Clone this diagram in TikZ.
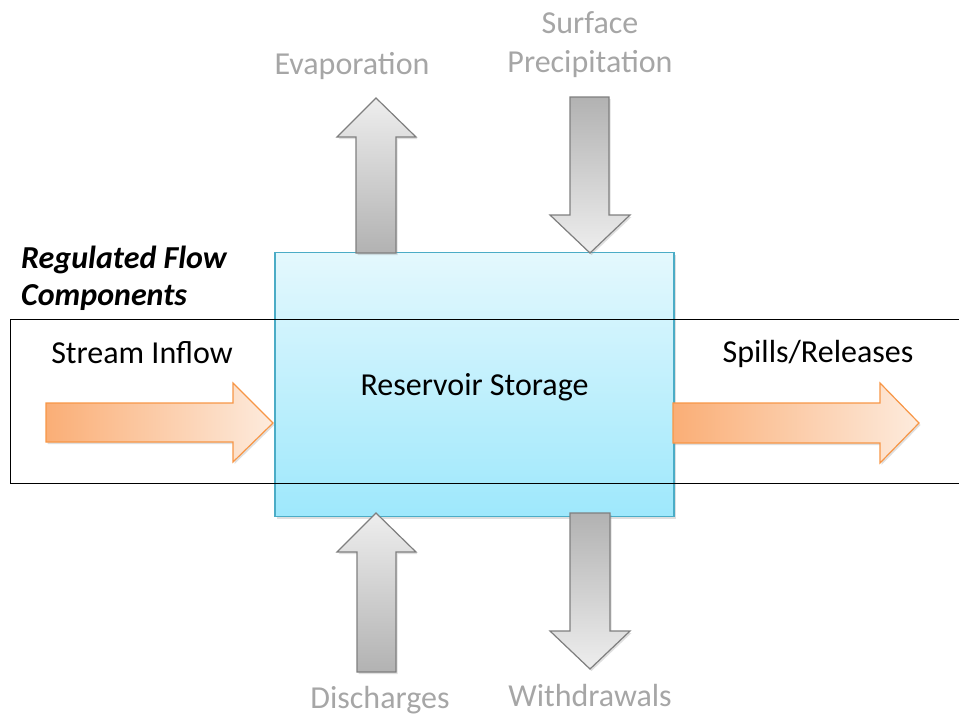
\documentclass[tikz,border=0pt]{standalone}
\usepackage{fontspec}
\setmainfont{Carlito}
\usetikzlibrary{shadows}

\definecolor{resline}{HTML}{4BACC6}
\definecolor{restop}{HTML}{E4F8FD}
\definecolor{resbottom}{HTML}{9EE8FC}
\definecolor{orangeline}{HTML}{F79646}
\definecolor{orangedark}{HTML}{FAAE76}
\definecolor{orangelight}{HTML}{FDEBDD}
\definecolor{grayline}{HTML}{7F7F7F}
\definecolor{graydark}{HTML}{B2B2B2}
\definecolor{graylight}{HTML}{EEEEEE}
\definecolor{labelgray}{HTML}{A6A6A6}

\begin{document}
\begin{tikzpicture}[
x=1pt, y=-1pt,
every node/.style={
inner sep=0pt,
font=\fontsize{32}{38}\selectfont
},
softshadow/.style={
drop shadow={shadow xshift=1.5pt, shadow yshift=-2pt, opacity=0.25}
},
grayflow/.style={
draw=grayline,
line width=1.2pt,
softshadow
},
orangeflow/.style={
draw=orangeline,
line width=1.2pt,
left color=orangedark,
right color=orangelight,
softshadow
},
flowlabel/.style={anchor=base, text=labelgray},
regtext/.style={anchor=base}
]

\useasboundingbox (0,0) rectangle (959,715);

% reservoir
\node (res) [
draw=resline,
line width=1.2pt,
top color=restop,
bottom color=resbottom,
minimum width=399pt,
minimum height=264pt,
softshadow
] at (474.5,384.5) {};
\node (storage) [regtext] at (474.5,395) {Reservoir Storage};

% regulated band
\draw[line width=1pt] (960,319) -- (10,319) -- (10,483) -- (960,483);

\node (regflow) [anchor=base west, font=\fontsize{32}{38}\selectfont\bfseries\itshape]
at (21,268) {Regulated Flow};
\node (regcomp) [anchor=base west, font=\fontsize{32}{38}\selectfont\bfseries\itshape]
at (21,305) {Components};

% regulated flows
\draw[orangeflow] (46,403) -- (233,403) -- (233,383) -- (273,423)
-- (233,462) -- (233,442) -- (46,442) -- cycle;
\draw[orangeflow] (673,403) -- (880,403) -- (880,383) -- (919,423)
-- (880,463) -- (880,443) -- (673,443) -- cycle;

\node (inflow) [regtext] at (142,363) {Stream Inflow};
\node (spills) [regtext] at (818,362) {Spills/Releases};

% other flows
\draw[grayflow, top color=graylight, bottom color=graydark]
(356,253) -- (356,137) -- (337,137) -- (376,98)
-- (416,137) -- (396,137) -- (396,253) -- cycle;
\draw[grayflow, top color=graydark, bottom color=graylight]
(570,97) -- (609,97) -- (609,215) -- (630,215)
-- (590,253) -- (550,215) -- (570,215) -- cycle;
\draw[grayflow, top color=graylight, bottom color=graydark]
(357,672) -- (357,552) -- (337,552) -- (376,513)
-- (416,552) -- (396,552) -- (396,672) -- cycle;
\draw[grayflow, top color=graydark, bottom color=graylight]
(570,513) -- (610,513) -- (610,631) -- (630,631)
-- (590,669) -- (550,631) -- (570,631) -- cycle;

\node (evap) [flowlabel] at (352,74) {Evaporation};
\node (surf) [flowlabel] at (590,33) {Surface};
\node (precip) [flowlabel] at (590,72) {Precipitation};
\node (disch) [flowlabel] at (380,708) {Discharges};
\node (withdr) [flowlabel] at (590,706) {Withdrawals};

\end{tikzpicture}
\end{document}
